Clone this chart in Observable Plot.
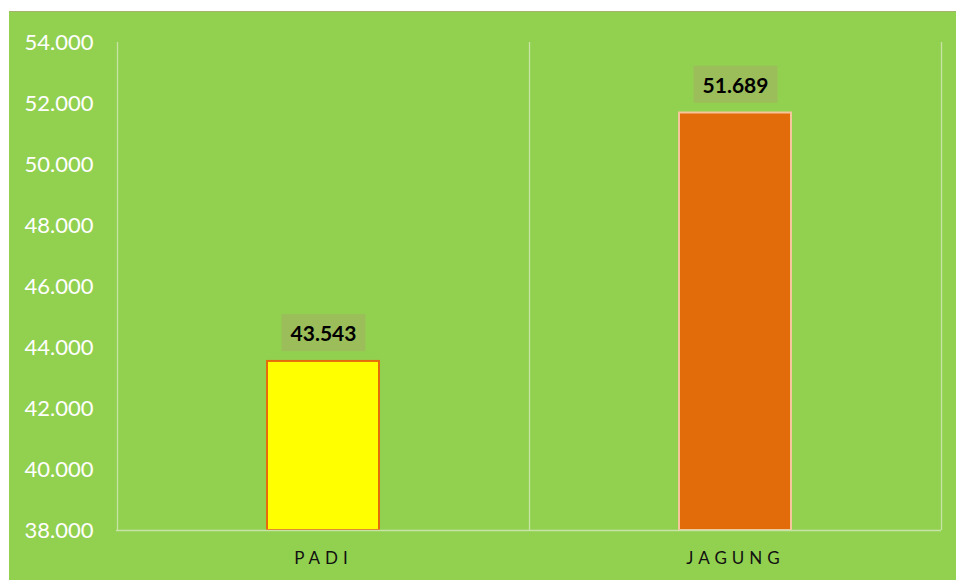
<!DOCTYPE html>
<html>
<head>
<meta charset="utf-8">
<script src="https://cdn.jsdelivr.net/npm/d3@7"></script>
<script src="https://cdn.jsdelivr.net/npm/@observablehq/plot@0.6"></script>
<style>
  html, body { margin: 0; padding: 0; background: #ffffff; width: 956px; height: 580px; overflow: hidden; }
  #frame { position: absolute; left: 9px; top: 11px; width: 947px; height: 569px; background: #92D050; border-top: 1px solid #A3B46C; box-sizing: border-box; }
  #frame svg { position: absolute; left: 0; top: -1px; }
</style>
</head>
<body>
<div id="frame"></div>
<script>
const categories = ["PADI", "JAGUNG"];
const values = [43543, 51689];
const barFills = ["#FFFF00", "#E36C0A"];
const barStrokes = ["#E46C0A", "#F6C59B"];
const yTicks = [38000, 40000, 42000, 44000, 46000, 48000, 50000, 52000, 54000];

const data = categories.map((c, i) => ({cat: c, value: values[i], fill: barFills[i], stroke: barStrokes[i]}));
const locale = d3.formatLocale({decimal: ",", thousands: ".", grouping: [3], currency: ["", ""]});
const fmt = locale.format(",");

const W = 947, H = 569;
const plot = Plot.plot({
  width: W,
  height: H,
  marginLeft: 107,
  marginRight: 15,
  marginTop: 31,
  marginBottom: 50,
  style: {background: "transparent", fontFamily: "Lato, 'Open Sans', sans-serif", overflow: "visible"},
  x: {domain: categories, padding: 0, label: null},
  y: {domain: [38000, 54000], label: null},
  marks: [
    Plot.gridX(categories, {x: d => d, stroke: "#C8E3A6", strokeOpacity: 1, strokeWidth: 1.3}),
    Plot.axisY({ticks: yTicks, tickFormat: fmt, tickSize: 0, tickPadding: 23, fontSize: 22, fill: "#ffffff", label: null}),
    Plot.axisX({tickSize: 0, tickPadding: 21, fontSize: 17, fill: "#111111", label: null}),
    Plot.barY(data, {x: "cat", y1: 38000, y2: "value", fill: "fill", stroke: "stroke", strokeWidth: 2, insetLeft: 150, insetRight: 150}),
    Plot.ruleY([38000], {stroke: "#C8E3A6", strokeWidth: 1.3}),
    Plot.text(data, {x: "cat", y: "value", text: d => fmt(d.value), dy: -27, fontSize: 21, fontWeight: "bold", fill: "#000000"})
  ]
});

document.getElementById("frame").appendChild(plot);

const xs = plot.scale("x");
const svgNS = "http://www.w3.org/2000/svg";
const gridG = plot.querySelector("g[aria-label='x-grid']");
if (gridG) {
  const lines = gridG.querySelectorAll("line");
  const edges = categories.map(c => xs.apply(c) - xs.bandwidth / 2);
  edges.push(xs.apply(categories[categories.length - 1]) + xs.bandwidth / 2);
  lines.forEach((ln, i) => {
    ln.setAttribute("x1", edges[i]); ln.setAttribute("x2", edges[i]);
    ln.removeAttribute("transform");
  });
  const extra = lines[0].cloneNode(true);
  extra.setAttribute("x1", edges[edges.length - 1]); extra.setAttribute("x2", edges[edges.length - 1]);
  lines[0].parentNode.appendChild(extra);
}

plot.querySelectorAll("g[aria-label='x-axis tick label'] text").forEach(t => {
  t.style.letterSpacing = "5px";
});

plot.querySelectorAll("g[aria-label='text'] text").forEach(t => {
  const b = t.getBBox();
  const cx = b.x + b.width / 2, cy = b.y + b.height / 2;
  const r = document.createElementNS(svgNS, "rect");
  r.setAttribute("x", cx - 42);
  r.setAttribute("y", cy - 18.5);
  r.setAttribute("width", 84);
  r.setAttribute("height", 37);
  r.setAttribute("fill", "#9BBE5A");
  const tr = t.getAttribute("transform");
  if (tr) r.setAttribute("transform", tr);
  t.parentNode.insertBefore(r, t);
});
</script>
</body>
</html>
